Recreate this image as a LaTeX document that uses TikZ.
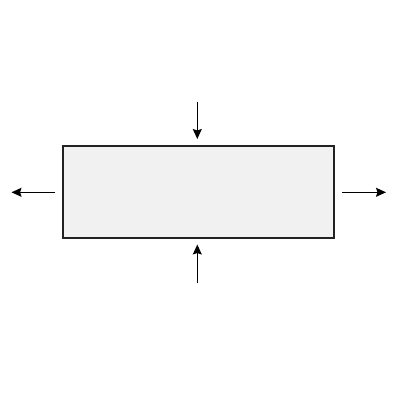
\documentclass[tikz,border=0pt]{standalone}
\usetikzlibrary{arrows.meta}
\definecolor{boxfill}{HTML}{F1F1F1}
\definecolor{boxline}{HTML}{222222}
\tikzset{
  blockbox/.style={draw=boxline, fill=boxfill, line width=1.1pt, minimum width=271pt, minimum height=92pt, inner sep=0pt, rectangle},
  flowarrow/.style={draw=black, line width=1.1pt, -{Stealth[length=10pt,width=9pt,inset=1.5pt]}}
}
\begin{document}
\begin{tikzpicture}[x=1pt,y=-1pt]
\useasboundingbox (0,0) rectangle (400,400);
\node[blockbox] (box) at (198.5,192) {};
\coordinate (topstart) at (197.3,101.5);
\coordinate (topend) at (197.3,139);
\coordinate (botstart) at (197.3,283);
\coordinate (botend) at (197.3,244.5);
\coordinate (leftstart) at (55,192.3);
\coordinate (leftend) at (11.5,192.3);
\coordinate (rightstart) at (342,192.3);
\coordinate (rightend) at (386,192.3);
\draw[flowarrow] (topstart) -- (topend);
\draw[flowarrow] (botstart) -- (botend);
\draw[flowarrow] (leftstart) -- (leftend);
\draw[flowarrow] (rightstart) -- (rightend);
\end{tikzpicture}
\end{document}
